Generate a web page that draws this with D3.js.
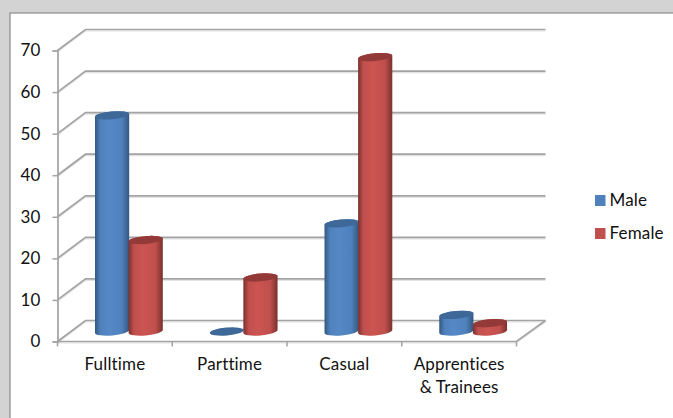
<!DOCTYPE html>
<html>
<head>
<meta charset="utf-8">
<script src="https://cdn.jsdelivr.net/npm/d3@7/dist/d3.min.js"></script>
<style>
html,body{margin:0;padding:0;background:#d3d3d3;overflow:hidden}
svg{display:block}
text{font-family:Lato,"Open Sans",sans-serif;font-size:17px;fill:#111;font-variant-ligatures:none;letter-spacing:.15px}
</style>
</head>
<body>
<svg id="chart" width="673" height="418"></svg>
<script>
// Employment counts by job type
const categories = [["Fulltime"], ["Parttime"], ["Casual"], ["Apprentices", "& Trainees"]];
const seriesNames = ["Male", "Female"];
const male = [52, 0, 26, 4];
const female = [22, 13, 66, 2];
const yTicks = [0, 10, 20, 30, 40, 50, 60, 70];

const seriesValues = [male, female];
const palette = {
  Male:   {swatch: "#4f81bd", edge: "#34587f", mid: "#5688c6", cap: "#3d6898"},
  Female: {swatch: "#c0504d", edge: "#7a302e", mid: "#cc5451", cap: "#933a38"}
};

const svg = d3.select("#chart");
const W = 673, H = 418;

// Oblique projection: the back wall sits up and to the right of the front plane
const depth = {x: 28, y: -21};
const frontLeft = 57.5, frontRight = 516.5;

const y = d3.scaleLinear().domain([0, 70]).range([341.5, 50.5]);
const x0 = d3.scaleBand().domain(categories.map(c => c.join(" "))).range([frontLeft, frontRight]);
const x1 = d3.scaleBand().domain(seriesNames).range([37.8, 105]);

// Panel
svg.append("rect").attr("width", W).attr("height", H).attr("fill", "#d3d3d3");
svg.append("rect").attr("x", 10).attr("y", 13).attr("width", W).attr("height", H)
  .attr("fill", "#fff").attr("stroke", "#8a8a8a").attr("stroke-width", 1.2);

// Gradients that give the cylinders their round look
const defs = svg.append("defs");
seriesNames.forEach(name => {
  const g = defs.append("linearGradient").attr("id", "grad-" + name);
  const c = palette[name];
  [[0, c.edge], [0.16, c.swatch], [0.42, c.mid], [0.78, c.swatch], [1, c.edge]].forEach(([o, col]) =>
    g.append("stop").attr("offset", o).attr("stop-color", col));
});

// Walls: each gridline runs along the side wall and across the back wall
const gridColor = "#a3a3a3", shadow = "#e2e2e2";
const grid = svg.append("g").attr("fill", "none");
const wallPath = v => {
  const p = d3.path();
  p.moveTo(frontLeft, y(v));
  p.lineTo(frontLeft + depth.x, y(v) + depth.y);
  p.lineTo(frontRight + depth.x + 1, y(v) + depth.y);
  return p.toString();
};
grid.selectAll("path.shade").data(yTicks).join("path").attr("class", "shade")
  .attr("d", wallPath).attr("transform", "translate(0,1.5)")
  .attr("stroke", shadow).attr("stroke-width", 1.2);
grid.selectAll("path.line").data(yTicks).join("path").attr("class", "line")
  .attr("d", wallPath).attr("stroke", gridColor).attr("stroke-width", 1.7);

// Floor outline
const floorEdge = d3.path();
floorEdge.moveTo(frontRight + depth.x + 1, y(0) + depth.y);
floorEdge.lineTo(frontRight, y(0));
floorEdge.lineTo(frontLeft, y(0));
svg.append("path").attr("d", floorEdge.toString()).attr("transform", "translate(0,1.5)")
  .attr("fill", "none").attr("stroke", shadow).attr("stroke-width", 1.2);
svg.append("path").attr("d", floorEdge.toString()).attr("fill", "none")
  .attr("stroke", gridColor).attr("stroke-width", 1.7);

// Value axis
const yAxis = d3.axisLeft(y).tickValues(yTicks).tickSize(5).tickPadding(12).tickFormat(d3.format("d"));
const yG = svg.append("g").attr("transform", `translate(${frontLeft},0)`).call(yAxis);
yG.select(".domain").attr("stroke", gridColor).attr("stroke-width", 1.7);
yG.selectAll(".tick line").attr("stroke", gridColor).attr("stroke-width", 1.5);
yG.selectAll(".tick text").attr("text-anchor", "end").attr("font-family", null).attr("font-size", null);
yG.attr("font-family", null).attr("font-size", null);

// Category axis: marks fall between categories, labels sit centred below
const edgeTicks = categories.map(c => x0(c.join(" "))).concat(frontRight);
svg.append("g").selectAll("line").data(edgeTicks).join("line")
  .attr("x1", d => d).attr("x2", d => d)
  .attr("y1", y(0)).attr("y2", y(0) + 5)
  .attr("stroke", gridColor).attr("stroke-width", 1.5);

const labels = svg.append("g").selectAll("text").data(categories).join("text")
  .attr("text-anchor", "middle")
  .attr("x", c => x0(c.join(" ")) + x0.bandwidth() / 2)
  .attr("y", 370);
labels.selectAll("tspan").data(c => c).join("tspan")
  .attr("x", function () { return d3.select(this.parentNode).attr("x"); })
  .attr("dy", (d, i) => i ? 22.5 : 0)
  .text(d => d);

// Cylinders stand on the mid-depth line of the floor
const midShift = {x: depth.x / 2, y: depth.y / 2 };
const tiltDeg = -5;
const tilt = tiltDeg * Math.PI / 180;
const ry = 3.9;

function cylinderBody(cx, rx, top, base) {
  const dy = Math.sin(tilt) * rx;
  return `M${cx - rx},${top - dy}L${cx - rx},${base - dy}` +
    `A${rx},${ry} ${tiltDeg} 0 0 ${cx + rx},${base + dy}L${cx + rx},${top + dy}` +
    `A${rx},${ry} ${tiltDeg} 0 0 ${cx - rx},${top - dy}Z`;
}

const bars = svg.append("g");
categories.forEach((cat, i) => {
  seriesNames.forEach((name, s) => {
    const v = seriesValues[s][i];
    const rx = x1.bandwidth() / 2 + 0.3;
    const cx = x0(cat.join(" ")) + x1(name) + x1.bandwidth() / 2;
    const base = y(0) + midShift.y + 0.5;
    const top = y(v) + midShift.y + 0.5;
    const c = palette[name];
    const cyl = bars.append("g");
    if (v > 0) {
      cyl.append("path").attr("d", cylinderBody(cx, rx, top, base)).attr("fill", `url(#grad-${name})`);
    }
    cyl.append("ellipse").attr("cx", cx).attr("cy", top).attr("rx", rx).attr("ry", ry)
      .attr("transform", `rotate(${tiltDeg} ${cx} ${top})`).attr("fill", c.cap);
  });
});

// Legend
const legend = svg.append("g").selectAll("g").data(seriesNames).join("g")
  .attr("transform", (d, i) => `translate(595,${195 + i * 33})`);
legend.append("rect").attr("width", 10.5).attr("height", 11).attr("fill", d => palette[d].swatch);
legend.append("text").attr("x", 14.5).attr("y", 11).text(d => d);
</script>
</body>
</html>
